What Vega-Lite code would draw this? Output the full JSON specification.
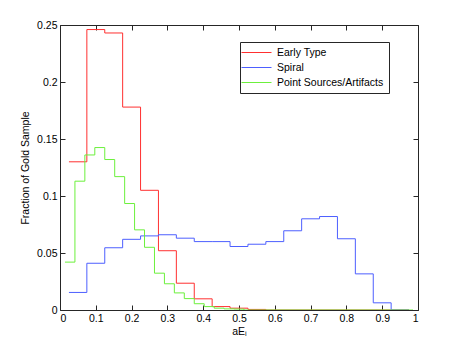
{
  "$schema": "https://vega.github.io/schema/vega-lite/v6.json",
  "width": 358,
  "height": 285,
  "autosize": "none",
  "padding": {"left": 60, "top": 25, "right": 45, "bottom": 39},
  "background": "white",
  "config": {
    "font": "Liberation Sans",
    "view": {"stroke": "#262626", "strokeWidth": 1},
    "axis": {
      "grid": false,
      "domain": false,
      "tickColor": "#262626",
      "tickSize": -5,
      "labelFont": "Liberation Sans",
      "labelFontSize": 10.5,
      "labelColor": "black",
      "titleFont": "Liberation Sans",
      "titleFontSize": 10.5,
      "titleFontWeight": "normal",
      "titleColor": "black"
    }
  },
  "data": {
    "values": [
      {"s": "Early Type", "x": 0.025, "y": 0.130},
      {"s": "Early Type", "x": 0.075, "y": 0.246},
      {"s": "Early Type", "x": 0.125, "y": 0.243},
      {"s": "Early Type", "x": 0.175, "y": 0.178},
      {"s": "Early Type", "x": 0.225, "y": 0.105},
      {"s": "Early Type", "x": 0.275, "y": 0.052},
      {"s": "Early Type", "x": 0.325, "y": 0.0235},
      {"s": "Early Type", "x": 0.375, "y": 0.0098},
      {"s": "Early Type", "x": 0.425, "y": 0.003},
      {"s": "Early Type", "x": 0.475, "y": 0.0016},
      {"s": "Early Type", "x": 0.525, "y": 0.0005},
      {"s": "Early Type", "x": 0.575, "y": 0},
      {"s": "Early Type", "x": 0.975, "y": 0},
      {"s": "Spiral", "x": 0.025, "y": 0.0154},
      {"s": "Spiral", "x": 0.075, "y": 0.041},
      {"s": "Spiral", "x": 0.125, "y": 0.0546},
      {"s": "Spiral", "x": 0.175, "y": 0.062},
      {"s": "Spiral", "x": 0.225, "y": 0.065},
      {"s": "Spiral", "x": 0.275, "y": 0.066},
      {"s": "Spiral", "x": 0.325, "y": 0.063},
      {"s": "Spiral", "x": 0.375, "y": 0.060},
      {"s": "Spiral", "x": 0.425, "y": 0.060},
      {"s": "Spiral", "x": 0.475, "y": 0.0557},
      {"s": "Spiral", "x": 0.525, "y": 0.0577},
      {"s": "Spiral", "x": 0.575, "y": 0.060},
      {"s": "Spiral", "x": 0.625, "y": 0.0695},
      {"s": "Spiral", "x": 0.675, "y": 0.080},
      {"s": "Spiral", "x": 0.725, "y": 0.082},
      {"s": "Spiral", "x": 0.775, "y": 0.0625},
      {"s": "Spiral", "x": 0.825, "y": 0.0317},
      {"s": "Spiral", "x": 0.875, "y": 0.0063},
      {"s": "Spiral", "x": 0.925, "y": 0},
      {"s": "Spiral", "x": 0.975, "y": 0},
      {"s": "Point Sources/Artifacts", "x": 0.0139, "y": 0.042},
      {"s": "Point Sources/Artifacts", "x": 0.0417, "y": 0.113},
      {"s": "Point Sources/Artifacts", "x": 0.0694, "y": 0.136},
      {"s": "Point Sources/Artifacts", "x": 0.0972, "y": 0.1425},
      {"s": "Point Sources/Artifacts", "x": 0.125, "y": 0.132},
      {"s": "Point Sources/Artifacts", "x": 0.1528, "y": 0.117},
      {"s": "Point Sources/Artifacts", "x": 0.1806, "y": 0.0934},
      {"s": "Point Sources/Artifacts", "x": 0.2083, "y": 0.0703},
      {"s": "Point Sources/Artifacts", "x": 0.2361, "y": 0.055},
      {"s": "Point Sources/Artifacts", "x": 0.2639, "y": 0.0323},
      {"s": "Point Sources/Artifacts", "x": 0.2917, "y": 0.023},
      {"s": "Point Sources/Artifacts", "x": 0.3194, "y": 0.015},
      {"s": "Point Sources/Artifacts", "x": 0.3472, "y": 0.010},
      {"s": "Point Sources/Artifacts", "x": 0.375, "y": 0.0055},
      {"s": "Point Sources/Artifacts", "x": 0.4028, "y": 0.003},
      {"s": "Point Sources/Artifacts", "x": 0.4306, "y": 0.0016},
      {"s": "Point Sources/Artifacts", "x": 0.4583, "y": 0.001},
      {"s": "Point Sources/Artifacts", "x": 0.4861, "y": 0.0008},
      {"s": "Point Sources/Artifacts", "x": 0.5139, "y": 0},
      {"s": "Point Sources/Artifacts", "x": 0.9861, "y": 0}
    ]
  },
  "resolve": {"axis": {"x": "independent", "y": "independent"}},
  "layer": [
    {
      "mark": {"type": "line", "interpolate": "step-after", "strokeWidth": 1, "clip": true},
      "encoding": {
        "x": {
          "field": "x", "type": "quantitative",
          "scale": {"domain": [0, 1], "nice": false, "zero": false},
          "axis": {"values": [0, 0.1, 0.2, 0.3, 0.4, 0.5, 0.6, 0.7, 0.8, 0.9, 1], "format": "~g", "labelPadding": 8, "title": "aEᵢ", "titlePadding": 3}
        },
        "y": {
          "field": "y", "type": "quantitative",
          "scale": {"domain": [0, 0.25], "nice": false},
          "axis": {"values": [0, 0.05, 0.1, 0.15, 0.2, 0.25], "format": "~g", "labelPadding": 8, "title": "Fraction of Gold Sample", "titlePadding": 6}
        },
        "color": {
          "field": "s", "type": "nominal",
          "scale": {"domain": ["Early Type", "Spiral", "Point Sources/Artifacts"], "range": ["#ff3030", "#4d5fff", "#6cf03c"]},
          "legend": {
            "orient": "none", "legendX": 180, "legendY": 17, "title": null,
            "symbolType": "M-3,0H3", "symbolSize": 100, "symbolStrokeWidth": 1, "symbolOffset": 6,
            "labelOffset": 15, "labelFontSize": 10.5, "labelFont": "Liberation Sans", "labelColor": "black",
            "rowPadding": 4, "padding": 5,
            "fillColor": "white", "strokeColor": "#262626",
            "encode": {"symbols": {"update": {"stroke": {"scale": "color", "field": "value"}, "fill": {"value": "transparent"}}}}
          }
        }
      }
    },
    {
      "mark": {"type": "line", "opacity": 0},
      "encoding": {
        "x": {
          "field": "x", "type": "quantitative",
          "axis": {"orient": "top", "values": [0, 0.1, 0.2, 0.3, 0.4, 0.5, 0.6, 0.7, 0.8, 0.9, 1], "labels": false, "title": null}
        },
        "y": {
          "field": "y", "type": "quantitative",
          "axis": {"orient": "right", "values": [0, 0.05, 0.1, 0.15, 0.2, 0.25], "labels": false, "title": null}
        }
      }
    }
  ]
}
